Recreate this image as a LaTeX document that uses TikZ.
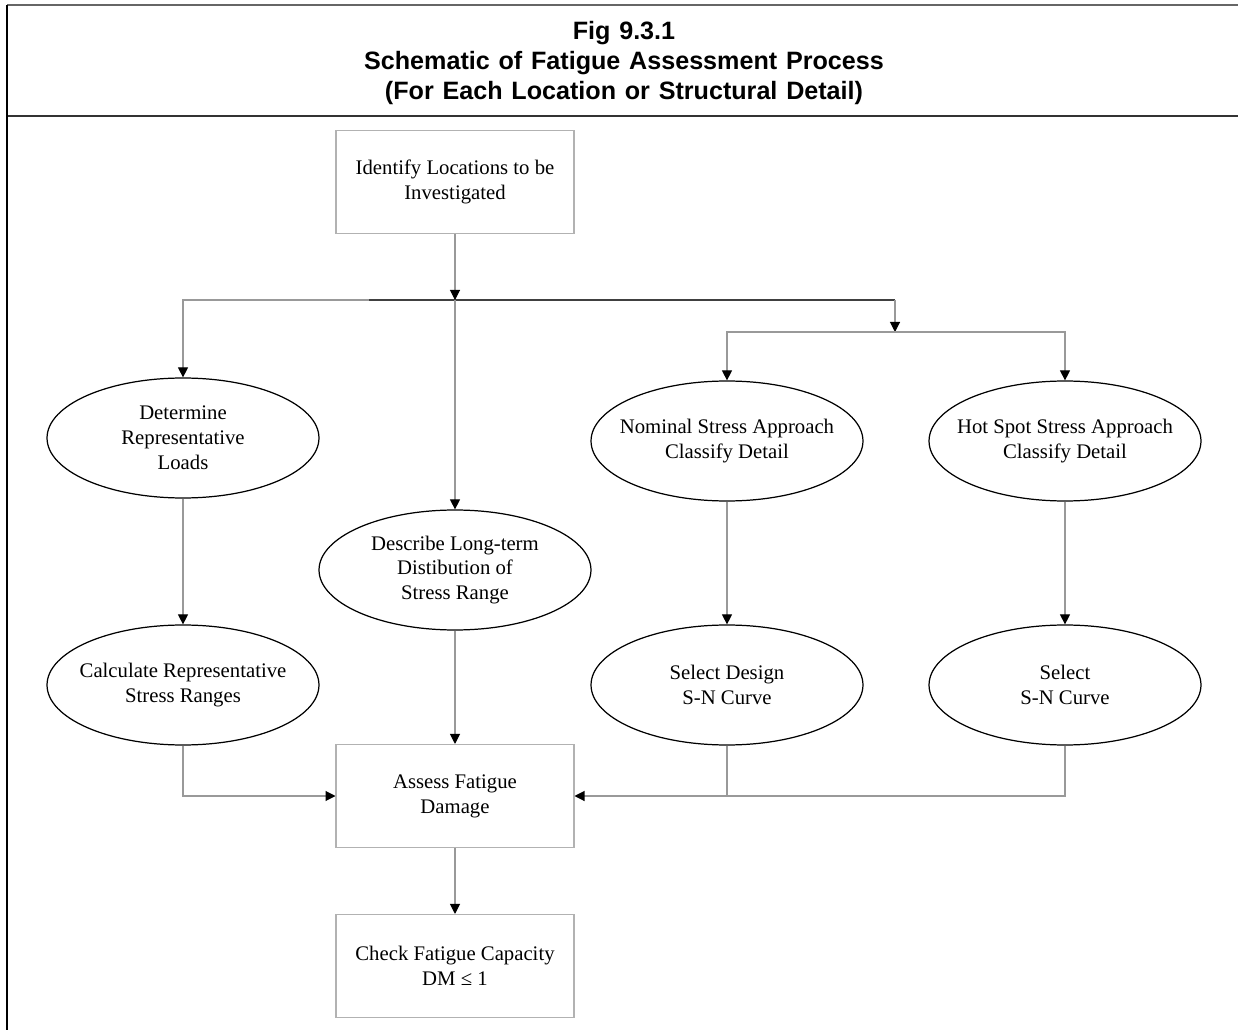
\documentclass[tikz,border=0pt]{standalone}
\usepackage{fontspec}
\setmainfont{Liberation Serif}
\newfontfamily\titlefont{Liberation Sans}
\usetikzlibrary{positioning,arrows.meta,shapes.geometric}
\usepackage{xcolor}
\newcommand\headstyle{\titlefont\bfseries\fontsize{14.3}{17}\selectfont\spaceskip=5pt plus 1pt\relax}

\tikzset{
  procbox/.style={draw=black!30,line width=0.6pt,minimum width=4.76cm,minimum height=2.06cm,align=center,inner sep=2pt},
  procoval/.style={ellipse,draw=black,line width=0.7pt,minimum width=5.44cm,minimum height=2.4cm,align=center,inner xsep=-0.8cm,inner ysep=0pt},
  conn/.style={draw=black!40,line width=0.6pt},
  busline/.style={draw=black!75,line width=1.1pt}
}

\begin{document}
\begin{tikzpicture}[x=0.02cm,y=-0.02cm,>={Triangle[length=2mm,width=2mm,color=black]},
  font=\fontsize{11.8}{14.2}\selectfont]
\useasboundingbox (0,0) rectangle (1238,1030);
% frame and heading
\draw[black!60,line width=1.1pt] (7,5) -- (1238,5);
\draw[black!80,line width=1.1pt] (7,116) -- (1238,116);
\draw[black,line width=1pt] (7,5) -- (7,1030);
\node[font=\headstyle,align=center] (title) at (624,63)
  {Fig 9.3.1\\Schematic of Fatigue Assessment Process\\(For Each Location or Structural Detail)};

\node[procbox] (ident) at (455,182) {Identify Locations to be\\Investigated};
\node[procoval] (determine) at (183,438) {Determine\\Representative\\Loads};
\node[procoval] (calc) at (183,685) {Calculate Representative\\Stress Ranges};
\node[procoval] (describe) at (455,570) {Describe Long-term\\Distibution of\\Stress Range};
\node[procoval] (nominal) at (727,441) {Nominal Stress Approach\\Classify Detail};
\node[procoval] (hotspot) at (1065,441) {Hot Spot Stress Approach\\Classify Detail};
\node[procoval] (seldesign) at (727,685) {Select Design\\S-N Curve};
\node[procoval] (select) at (1065,685) {Select\\S-N Curve};
\node[procbox] (assess) at (455,796) {Assess Fatigue\\Damage};
\node[procbox] (check) at (455,966) {Check Fatigue Capacity\\DM ≤ 1};

\coordinate (busM) at (369,300);
\coordinate (busR) at (895,300);
\coordinate (split) at (895,332);

\draw[busline] (busM) -- (busR);
\draw[conn,->] (ident) -- (ident |- busM);
\draw[conn,->] (ident |- busM) -- (describe);
\draw[conn,->] (busM) -| (determine);
\draw[conn,->] (busR) -- (split);
\draw[conn,->] (split) -| (nominal);
\draw[conn,->] (split) -| (hotspot);
\draw[conn,->] (determine) -- (calc);
\draw[conn,->] (nominal) -- (seldesign);
\draw[conn,->] (hotspot) -- (select);
\draw[conn,->] (calc) |- (assess);
\draw[conn,->] (seldesign) |- (assess);
\draw[conn] (select) |- (seldesign |- assess);
\draw[conn,->] (describe) -- (assess);
\draw[conn,->] (assess) -- (check);
\end{tikzpicture}
\end{document}
